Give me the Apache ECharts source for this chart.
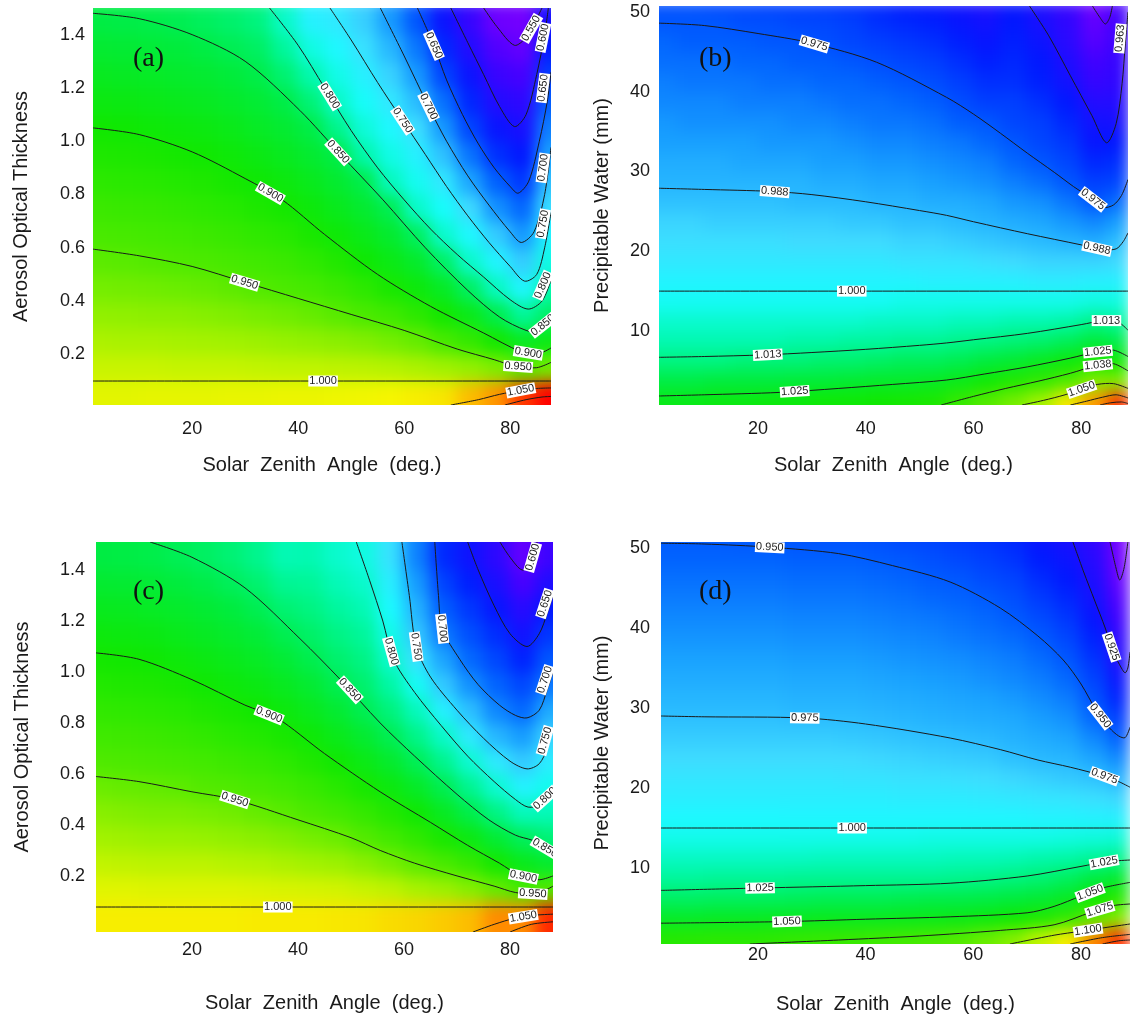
<!DOCTYPE html>
<html><head><meta charset="utf-8">
<script src="https://cdn.jsdelivr.net/npm/echarts@6/dist/echarts.min.js"></script>
<style>
html,body{margin:0;padding:0;background:#fff}
#wrap{position:relative;width:1130px;height:1026px;overflow:hidden}
#heat,#c{position:absolute;left:0;top:0;width:1130px;height:1026px}
#heat{filter:blur(8px)}
.mask{position:absolute;box-shadow:0 0 0 64px #fff}
</style>
</head><body><div id="wrap"><div id="heat"></div><div id="masks"></div><div id="c"></div></div>
<script>
// ---------- axes / categories ----------
const zenithCells = [2.5,7.5,12.5,17.5,22.5,27.5,32.5,37.5,42.5,47.5,52.5,57.5,62.5,67.5,72.5,77.5,82.5,87.5];
const aotCells = [0.05,0.15,0.25,0.35,0.45,0.55,0.65,0.75,0.85,0.95,1.05,1.15,1.25,1.35,1.45];
const pwCells = [1.25,3.75,6.25,8.75,11.25,13.75,16.25,18.75,21.25,23.75,26.25,28.75,31.25,33.75,36.25,38.75,41.25,43.75,46.25,48.75,51.25];
const zenithTicks = [20,40,60,80];
const aotTicks = [0.2,0.4,0.6,0.8,1.0,1.2,1.4];
const pwTicks = [10,20,30,40,50];

// ---------- panel (a): ratio, columns by zenith, values bottom->top ----------
const ratioA = [
[1.005,.995,.985,.975,.964,.954,.944,.933,.922,.911,.900,.888,.877,.865,.853],
[1.005,.995,.984,.974,.963,.953,.942,.931,.920,.909,.898,.887,.875,.864,.852],
[1.006,.995,.984,.973,.962,.951,.940,.929,.918,.907,.895,.884,.873,.861,.850],
[1.006,.994,.983,.972,.960,.949,.937,.926,.914,.903,.892,.880,.869,.858,.847],
[1.006,.994,.982,.970,.958,.946,.934,.922,.911,.899,.888,.876,.865,.853,.842],
[1.007,.994,.981,.968,.955,.942,.929,.917,.904,.893,.882,.870,.859,.847,.836],
[1.007,.993,.979,.965,.951,.937,.924,.910,.897,.886,.874,.863,.851,.840,.828],
[1.008,.992,.977,.962,.946,.932,.918,.903,.890,.877,.865,.852,.834,.815,.796],
[1.008,.992,.975,.958,.941,.924,.907,.892,.879,.866,.852,.831,.807,.784,.760],
[1.009,.991,.972,.953,.933,.913,.895,.880,.866,.852,.822,.796,.781,.766,.751],
[1.010,.990,.969,.946,.922,.898,.882,.866,.850,.809,.788,.773,.758,.743,.729],
[1.012,.988,.964,.936,.906,.885,.867,.847,.800,.782,.766,.749,.731,.713,.695],
[1.015,.985,.958,.922,.892,.869,.842,.795,.777,.759,.739,.716,.695,.677,.659],
[1.018,.981,.944,.902,.873,.839,.793,.772,.749,.720,.694,.673,.650,.634,.617],
[1.034,.976,.928,.882,.840,.794,.766,.736,.702,.675,.650,.633,.617,.600,.585],
[1.048,.968,.903,.850,.799,.763,.726,.691,.665,.638,.619,.600,.583,.566,.549],
[1.074,.953,.876,.816,.764,.726,.694,.668,.642,.624,.607,.590,.573,.555,.545],
[1.096,.963,.885,.839,.807,.783,.762,.742,.721,.700,.682,.664,.646,.627,.609]];

// ---------- panel (b) ----------
const ratioB = [
[1.027,1.020,1.014,1.009,1.006,1.002,.999,.996,.994,.992,.989,.987,.986,.984,.983,.981,.980,.978,.977,.975,.974],
[1.027,1.020,1.014,1.009,1.006,1.002,.999,.996,.994,.992,.989,.987,.986,.984,.982,.981,.979,.978,.976,.975,.974],
[1.028,1.021,1.014,1.009,1.006,1.002,.999,.996,.994,.991,.989,.987,.986,.984,.982,.981,.979,.978,.976,.975,.973],
[1.028,1.021,1.015,1.009,1.006,1.002,.999,.996,.994,.991,.989,.987,.985,.984,.982,.980,.979,.977,.976,.974,.973],
[1.029,1.021,1.015,1.009,1.006,1.002,.999,.996,.994,.991,.989,.987,.985,.983,.982,.980,.978,.977,.975,.974,.972],
[1.029,1.022,1.015,1.010,1.006,1.002,.999,.996,.993,.991,.988,.987,.985,.983,.981,.980,.978,.976,.975,.973,.972],
[1.030,1.022,1.016,1.010,1.006,1.002,.999,.996,.993,.991,.988,.986,.984,.983,.981,.979,.977,.976,.974,.973,.971],
[1.030,1.023,1.016,1.011,1.006,1.002,.999,.996,.993,.990,.988,.986,.984,.982,.980,.978,.977,.975,.973,.972,.970],
[1.031,1.024,1.017,1.011,1.007,1.002,.999,.996,.993,.990,.987,.985,.983,.981,.979,.978,.976,.974,.972,.970,.969],
[1.032,1.024,1.018,1.012,1.007,1.003,.999,.995,.992,.989,.987,.985,.983,.981,.979,.977,.975,.973,.971,.969,.967],
[1.033,1.025,1.018,1.012,1.007,1.003,.998,.995,.992,.989,.986,.984,.982,.980,.978,.976,.974,.972,.970,.968,.966],
[1.038,1.027,1.019,1.013,1.008,1.003,.998,.995,.991,.988,.986,.983,.981,.979,.976,.974,.972,.970,.968,.966,.964],
[1.043,1.030,1.021,1.014,1.008,1.003,.998,.994,.990,.987,.985,.982,.980,.977,.975,.972,.970,.968,.966,.964,.962],
[1.046,1.034,1.023,1.015,1.009,1.003,.998,.993,.989,.986,.983,.980,.977,.975,.973,.972,.970,.969,.968,.967,.966],
[1.050,1.037,1.026,1.016,1.009,1.003,.997,.992,.988,.985,.982,.978,.975,.973,.972,.970,.968,.967,.965,.963,.962],
[1.058,1.042,1.029,1.018,1.010,1.003,.997,.992,.987,.983,.979,.975,.973,.971,.969,.967,.964,.962,.960,.959,.957],
[1.065,1.047,1.033,1.021,1.013,1.004,.998,.992,.986,.981,.975,.972,.969,.966,.964,.961,.958,.956,.953,.951,.949],
[1.072,1.047,1.030,1.019,1.011,1.004,.998,.993,.989,.984,.978,.973,.970,.967,.963,.961,.959,.958,.957,.956,.955]];

// ---------- panel (c) ----------
const ratioC = [
[1.003,.993,.983,.973,.964,.954,.944,.933,.923,.913,.902,.892,.881,.870,.859],
[1.003,.993,.982,.972,.962,.952,.942,.932,.921,.911,.901,.890,.880,.869,.858],
[1.003,.992,.981,.970,.960,.951,.940,.930,.919,.909,.898,.888,.877,.867,.856],
[1.003,.992,.981,.970,.960,.949,.938,.927,.916,.905,.894,.883,.873,.862,.852],
[1.003,.992,.981,.969,.958,.946,.935,.923,.911,.899,.889,.878,.868,.857,.847],
[1.003,.992,.979,.967,.956,.944,.931,.918,.906,.893,.883,.872,.861,.850,.840],
[1.004,.991,.978,.965,.952,.939,.926,.913,.900,.888,.877,.865,.853,.842,.830],
[1.004,.990,.976,.962,.948,.934,.920,.906,.892,.880,.867,.854,.841,.828,.815],
[1.004,.989,.973,.958,.942,.927,.911,.896,.882,.869,.855,.845,.835,.826,.816],
[1.005,.988,.971,.954,.935,.917,.899,.884,.869,.854,.843,.834,.824,.814,.805],
[1.006,.985,.965,.946,.925,.904,.887,.870,.853,.843,.834,.825,.815,.806,.797],
[1.009,.982,.958,.935,.912,.891,.872,.853,.837,.821,.805,.794,.783,.772,.761],
[1.011,.975,.949,.922,.898,.875,.852,.832,.812,.789,.761,.743,.731,.718,.706],
[1.015,.971,.939,.906,.879,.854,.830,.807,.775,.744,.723,.702,.689,.676,.663],
[1.020,.963,.925,.889,.856,.829,.803,.768,.738,.713,.694,.682,.670,.658,.646],
[1.035,.952,.903,.867,.834,.803,.768,.733,.708,.692,.678,.665,.651,.638,.625],
[1.035,.937,.883,.850,.812,.776,.744,.718,.694,.678,.660,.643,.628,.608,.592],
[1.060,.944,.871,.839,.814,.792,.771,.750,.726,.702,.686,.670,.653,.635,.615]];

// ---------- panel (d) ----------
const ratioD = [
[1.066,1.046,1.031,1.020,1.012,1.004,.998,.993,.989,.984,.980,.976,.973,.970,.967,.964,.961,.958,.955,.952,.950],
[1.067,1.046,1.031,1.020,1.012,1.004,.998,.993,.989,.984,.980,.976,.973,.970,.967,.964,.961,.958,.955,.952,.950],
[1.068,1.047,1.032,1.021,1.012,1.004,.998,.993,.989,.984,.980,.976,.973,.970,.967,.964,.961,.958,.955,.952,.950],
[1.068,1.047,1.032,1.021,1.012,1.004,.998,.993,.989,.984,.980,.976,.973,.970,.967,.964,.961,.958,.955,.952,.949],
[1.069,1.048,1.032,1.021,1.012,1.004,.998,.993,.989,.984,.980,.976,.973,.970,.967,.964,.961,.958,.955,.952,.949],
[1.071,1.048,1.033,1.022,1.012,1.004,.997,.993,.989,.984,.980,.975,.972,.969,.966,.963,.960,.957,.954,.951,.948],
[1.072,1.049,1.034,1.022,1.013,1.004,.997,.993,.989,.984,.980,.975,.972,.969,.966,.963,.960,.957,.954,.951,.948],
[1.073,1.049,1.034,1.022,1.013,1.004,.997,.993,.988,.984,.979,.975,.972,.969,.966,.963,.960,.957,.954,.951,.948],
[1.075,1.049,1.034,1.022,1.013,1.004,.997,.993,.988,.983,.978,.974,.971,.968,.965,.962,.959,.956,.953,.950,.947],
[1.077,1.050,1.035,1.022,1.013,1.004,.997,.992,.987,.982,.977,.973,.970,.967,.964,.961,.958,.955,.952,.949,.945],
[1.079,1.051,1.036,1.022,1.013,1.005,.997,.992,.987,.981,.976,.972,.969,.966,.963,.960,.957,.953,.950,.947,.944],
[1.082,1.052,1.036,1.023,1.014,1.005,.997,.992,.986,.980,.975,.971,.968,.965,.962,.958,.955,.952,.949,.945,.942],
[1.086,1.054,1.037,1.024,1.014,1.005,.997,.991,.985,.979,.974,.970,.967,.963,.960,.956,.953,.950,.946,.943,.940],
[1.091,1.058,1.039,1.026,1.015,1.005,.997,.990,.983,.976,.972,.969,.965,.961,.958,.954,.950,.947,.944,.940,.937],
[1.101,1.063,1.042,1.028,1.017,1.005,.996,.989,.981,.974,.970,.966,.962,.958,.954,.950,.946,.942,.938,.934,.930],
[1.111,1.071,1.047,1.032,1.018,1.006,.996,.988,.979,.973,.968,.963,.958,.953,.949,.945,.941,.937,.933,.929,.925],
[1.128,1.084,1.059,1.038,1.021,1.007,.995,.986,.977,.968,.961,.953,.948,.944,.940,.936,.931,.927,.923,.920,.916],
[1.139,1.091,1.067,1.044,1.023,1.008,.994,.983,.972,.961,.951,.943,.936,.929,.922,.917,.911,.906,.900,.897,.896]];

// ---------- contour lines: level, points [zenith, y], label points ----------
const contourA = [
 {lv:'0.550', pts:[[75,1.5],[77.5,1.43],[80.8,1.36],[83,1.39],[85,1.46],[86,1.5]], lab:[[83.4,1.43]]},
 {lv:'0.600', pts:[[68.8,1.5],[72,1.37],[75,1.25],[78,1.13],[80.8,1.055],[83,1.1],[85,1.25],[86.5,1.4],[87.2,1.5]], lab:[[86.3,1.39]]},
 {lv:'0.650', pts:[[62.5,1.5],[65.6,1.36],[68,1.23],[71,1.1],[74,0.99],[77,0.9],[80,0.83],[81.5,0.805],[83.5,0.85],[85.5,1.0],[87,1.15],[87.7,1.26]], lab:[[65.6,1.36],[87.2,1.2]]},
 {lv:'0.700', pts:[[55.5,1.5],[60,1.32],[64.6,1.13],[68,1.0],[72,0.87],[76,0.76],[80,0.66],[82.1,0.62],[84.5,0.66],[86.5,0.8],[87.7,0.977]], lab:[[64.6,1.13],[87.3,0.9]]},
 {lv:'0.750', pts:[[46,1.5],[50,1.38],[55,1.22],[59.7,1.078],[64,0.95],[68,0.83],[72,0.72],[76,0.62],[80,0.53],[82.7,0.475],[85,0.5],[86.5,0.6],[87.7,0.734]], lab:[[59.7,1.078],[87.3,0.69]]},
 {lv:'0.800', pts:[[34.6,1.5],[40,1.36],[45,1.2],[50,1.04],[55,0.9],[60,0.78],[65,0.67],[70,0.575],[75,0.49],[80,0.405],[83.4,0.37],[86,0.4],[87.7,0.479]], lab:[[46,1.17],[87.2,0.46]]},
 {lv:'0.850', pts:[[1.3,1.48],[10,1.46],[20,1.40],[30,1.30],[40.3,1.116],[48,0.95],[56,0.78],[64,0.6],[72,0.44],[78,0.34],[83,0.29],[85.5,0.285],[87.7,0.32]], lab:[[47,0.95],[87,0.31]]},
 {lv:'0.900', pts:[[1.3,1.05],[10,1.025],[20,0.96],[30,0.86],[37,0.78],[45,0.65],[55,0.5],[65,0.38],[75,0.28],[82,0.21],[85,0.2],[87.7,0.224]], lab:[[34.6,0.8],[83.4,0.205]]},
 {lv:'0.950', pts:[[1.3,0.595],[10,0.57],[20,0.53],[30,0.47],[40,0.41],[50,0.35],[60,0.29],[70,0.22],[77,0.18],[81,0.155],[85,0.15],[87.7,0.17]], lab:[[29.9,0.47],[81.5,0.155]]},
 {lv:'1.000', pts:[[1.3,0.1],[87.7,0.1]], lab:[[44.7,0.1]]},
 {lv:'1.050', pts:[[68.8,0.01],[74,0.03],[78,0.05],[82,0.065],[85,0.072],[87.7,0.074]], lab:[[82,0.065]]},
 {lv:'1.100', pts:[[79,0.01],[83,0.03],[86,0.04],[87.7,0.042]], lab:[]}
];
const contourB = [
 {lv:'0.950', pts:[[82.1,50.75],[83.5,49.3],[84.5,48.5],[85.3,49.3],[85.8,50.75]], lab:[]},
 {lv:'0.963', pts:[[70.4,50.75],[74,47],[78,42],[82,37],[84.7,33.6],[86.5,36],[87.6,41],[88.2,46],[88.7,50]], lab:[[88.1,46.7]]},
 {lv:'0.975', pts:[[1.6,48.6],[10,48.3],[20,47.3],[29.9,46.1],[42,43.7],[55,39.3],[60,37.2],[65,34.8],[70,32.3],[75,29.9],[78.6,28.1],[82,26.6],[84.1,25.5],[86,25.8],[87.5,27],[88.7,29]], lab:[[30.5,46.1],[81.6,26.0]]},
 {lv:'0.988', pts:[[1.6,27.9],[10,27.75],[22.5,27.5],[30,27.1],[40,26.2],[50,25.1],[55,24.5],[60,23.7],[70,22.2],[80,20.8],[84,20.2],[86.5,20.3],[87.8,21.2],[88.7,22.3]], lab:[[23.1,27.55],[82.9,20.3]]},
 {lv:'1.000', pts:[[1.6,15],[88.7,15]], lab:[[37.4,15]]},
 {lv:'1.013', pts:[[1.6,6.7],[10,6.8],[21,7.0],[30,7.3],[40,7.7],[50,8.2],[55,8.5],[60,8.9],[70,9.7],[80,10.8],[84,11.3],[86.5,11.3],[88.7,10.1]], lab:[[21.8,7.0],[84.7,11.3]]},
 {lv:'1.025', pts:[[1.6,1.85],[10,2.0],[24,2.3],[35,2.8],[45,3.3],[55,3.85],[62,4.6],[70,5.5],[78,6.6],[83,7.4],[86,7.6],[88.7,6.8]], lab:[[26.8,2.4],[83.1,7.4]]},
 {lv:'1.038', pts:[[54,0.72],[60,1.8],[66,2.8],[72,3.7],[78,4.7],[83,5.7],[86,5.9],[88.7,5.0]], lab:[[83.1,5.7]]},
 {lv:'1.050', pts:[[69,0.72],[73,1.3],[77,2.0],[80.5,2.8],[83,3.3],[86,3.4],[88.7,2.8]], lab:[[80.1,2.7]]},
 {lv:'1.063', pts:[[78,0.72],[81,1.2],[84,1.7],[86.5,2.0],[88.7,1.6]], lab:[]},
 {lv:'1.075', pts:[[83.5,0.72],[85.5,1.0],[87.5,1.1],[88.7,0.9]], lab:[]}
];
const contourC = [
 {lv:'0.600', pts:[[78.1,1.51],[80,1.45],[82.3,1.4],[84,1.43],[85.1,1.51]], lab:[[84.3,1.45]]},
 {lv:'0.650', pts:[[72,1.51],[74,1.4],[77,1.26],[80,1.15],[83.2,1.1],[85.5,1.15],[87,1.23],[88.1,1.3]], lab:[[87.4,1.27]]},
 {lv:'0.700', pts:[[65.8,1.51],[66.5,1.3],[67.2,1.17],[70.5,1.05],[74,0.95],[78,0.87],[81,0.83],[83.2,0.82],[85.5,0.85],[87,0.93],[88.1,1.0]], lab:[[67.2,1.17],[87.6,0.97]]},
 {lv:'0.750', pts:[[59.6,1.51],[61,1.3],[62.3,1.1],[65,0.98],[70,0.85],[75,0.74],[80,0.65],[83.2,0.62],[85.5,0.64],[87,0.7],[88.1,0.78]], lab:[[62.3,1.1],[87.6,0.73]]},
 {lv:'0.800', pts:[[51,1.51],[53.5,1.36],[56,1.2],[58,1.05],[62,0.92],[67,0.79],[72,0.67],[77,0.57],[81,0.5],[83.4,0.47],[86,0.48],[88.1,0.52]], lab:[[57.5,1.08],[87.4,0.5]]},
 {lv:'0.850', pts:[[12.1,1.51],[20,1.45],[30,1.33],[40.4,1.13],[48,0.97],[55.5,0.8],[62,0.67],[70,0.52],[76,0.42],[81,0.36],[84.2,0.34],[86.5,0.32],[88.1,0.3]], lab:[[49.8,0.93],[87.3,0.31]]},
 {lv:'0.900', pts:[[1.9,1.075],[10,1.05],[20,0.97],[30,0.87],[36,0.82],[45,0.68],[55.5,0.53],[65,0.41],[72,0.32],[78,0.25],[82,0.2],[85.5,0.185],[88.1,0.2]], lab:[[34.7,0.84],[82.5,0.195]]},
 {lv:'0.950', pts:[[1.9,0.59],[10,0.57],[20,0.53],[28,0.5],[40,0.42],[50,0.35],[55.5,0.3],[62,0.25],[70,0.2],[77,0.16],[81,0.135],[85,0.13],[88.1,0.16]], lab:[[28.1,0.5],[84.3,0.13]]},
 {lv:'1.000', pts:[[1.9,0.078],[88.1,0.078]], lab:[[36.2,0.078]]},
 {lv:'1.050', pts:[[73,-0.02],[77,0.01],[81,0.035],[84,0.045],[88.1,0.05]], lab:[[82.5,0.04]]},
 {lv:'1.100', pts:[[80,-0.02],[84,0.01],[88.1,0.02]], lab:[]}
];
const contourD = [
 {lv:'0.900', pts:[[85.4,50.75],[86.5,47.5],[87.2,46],[88,47.5],[88.7,50.75]], lab:[]},
 {lv:'0.925', pts:[[78.5,50.75],[80.5,47],[82.5,43.5],[84.5,40],[86,37],[87.5,35],[88.2,34.4],[88.7,35],[89.1,37]], lab:[[85.6,37.6]]},
 {lv:'0.950', pts:[[2,50.6],[10,50.5],[22.2,50.1],[35,49.3],[45,47.8],[55.7,45.75],[65,42.5],[72,39],[76.7,36],[80,33],[83,29.5],[85.3,27.5],[87,26.5],[88.2,26.3],[89.1,27.6]], lab:[[22.2,50.1],[83.5,29.0]]},
 {lv:'0.975', pts:[[2,29],[10,28.9],[28.7,28.75],[40,28],[55.7,26.25],[65,24.8],[72,23.5],[78,22.6],[84.2,21.5],[87,20.8],[89.1,20.1]], lab:[[28.7,28.75],[84.3,21.4]]},
 {lv:'1.000', pts:[[2,15],[89.1,15]], lab:[[37.5,15]]},
 {lv:'1.025', pts:[[2,7.2],[20.4,7.5],[40,7.8],[55.7,8.1],[70,9],[80,10.2],[85,10.8],[89.1,11]], lab:[[20.4,7.5],[84.3,10.7]]},
 {lv:'1.050', pts:[[2,3.1],[25,3.3],[40,3.6],[55.7,3.9],[70,4.4],[75,5.2],[80,6.5],[84,7.5],[89.1,8.2]], lab:[[25.4,3.3],[81.7,6.9]]},
 {lv:'1.075', pts:[[18.5,0.5],[35,1.0],[50,1.5],[65,2.2],[75,2.9],[82,4.5],[86,5.3],[89.1,5.5]], lab:[[83.5,4.8]]},
 {lv:'1.100', pts:[[66.8,0.5],[75,1.6],[80,2.1],[85,2.6],[89.1,3.0]], lab:[[81.3,2.25]]},
 {lv:'1.125', pts:[[78,0.5],[84,1.3],[89.1,1.7]], lab:[]},
 {lv:'1.150', pts:[[84,0.5],[87,0.9],[89.1,1.0]], lab:[]}
];

// ---------- colour map (style) ----------
const cmapStops = [[0,'#8c00ff'],[0.08,'#4400ff'],[0.17,'#0018ff'],[0.24,'#0060ff'],[0.30,'#18a0ff'],[0.37,'#40dcff'],[0.43,'#18fcff'],[0.5,'#00f8a8'],[0.58,'#00ec40'],[0.66,'#10e800'],[0.75,'#50ea00'],[0.81,'#a8f200'],[0.86,'#f6f600'],[0.92,'#ffa000'],[1,'#ff0000']];
function hex2rgb(h){return [parseInt(h.slice(1,3),16),parseInt(h.slice(3,5),16),parseInt(h.slice(5,7),16)];}
function palette(n){
  const out=[];
  for(let i=0;i<n;i++){
    const t=i/(n-1);let k=0;
    while(k<cmapStops.length-2 && t>cmapStops[k+1][0]) k++;
    const [t0,c0]=cmapStops[k],[t1,c1]=cmapStops[k+1];
    const f=(t-t0)/(t1-t0);const a=hex2rgb(c0),b=hex2rgb(c1);
    out.push('rgb('+a.map((v,j)=>Math.round(v+(b[j]-v)*f)).join(',')+')');
  }
  return out;
}
const PAL = palette(101);

// ---------- layout ----------
const GRIDS = [
  {left:93, top:8, width:458, height:397},
  {left:659, top:6, width:469, height:399},
  {left:96, top:542, width:457, height:390},
  {left:661, top:542, width:469, height:402}
];
const XR = [[1.3,87.7],[1.6,88.7],[1.9,88.1],[2.0,89.1]];
const YR = [[0.01,1.5],[0.72,50.75],[-0.02,1.51],[0.5,50.75]];
const FONT = '"Liberation Sans", Arial, Helvetica, sans-serif';
const EXT = 28;

// ---------- builders ----------
function heatSeries(gi, cols, rows, values, dx, dy){
  const data=[];
  values.forEach((col,i)=>col.forEach((v,j)=>data.push([cols[i], rows[j], v])));
  const x0c=cols[0], x1c=cols[cols.length-1], y0c=rows[0], y1c=rows[rows.length-1];
  return {type:'custom', coordinateSystem:'cartesian2d', xAxisIndex:gi, yAxisIndex:gi, silent:true, z:1,
    dimensions:['x','y','v'], encode:{x:0,y:1}, data,
    renderItem(params, api){
      const x=api.value(0), y=api.value(1);
      const p1=api.coord([x-dx/2, y+dy/2]), p2=api.coord([x+dx/2, y-dy/2]);
      let a=p1[0]-0.6, b=p1[1]-0.6, c=p2[0]+0.6, d=p2[1]+0.6;
      if(x===x0c) a-=EXT; if(x===x1c) c+=EXT; if(y===y0c) d+=EXT; if(y===y1c) b-=EXT;
      return {type:'rect', shape:{x:a,y:b,width:c-a,height:d-b}, style:{fill:api.visual('color')}};
    }};
}
function contourSeries(gi, list){
  return {type:'custom', coordinateSystem:'cartesian2d', xAxisIndex:gi, yAxisIndex:gi, silent:true, z:5,
    data:list.map((c,i)=>[i]),
    renderItem(params, api){
      const c=list[params.dataIndex];
      const pts=c.pts.map(p=>api.coord(p));
      const cs=params.coordSys;
      const children=[{type:'polyline', shape:{points:pts, smooth:0.3}, style:{stroke:'#1a1a1a', lineWidth:1, fill:null}}];
      c.lab.forEach(l=>{
        const q=api.coord(l);
        let best=null,bd=1e18;
        for(let k=0;k<pts.length-1;k++){
          const a=pts[k],b=pts[k+1];const vx=b[0]-a[0],vy=b[1]-a[1];
          const L=vx*vx+vy*vy||1;let t=((q[0]-a[0])*vx+(q[1]-a[1])*vy)/L;t=Math.max(0,Math.min(1,t));
          const px=a[0]+t*vx,py=a[1]+t*vy;const d=(px-q[0])**2+(py-q[1])**2;
          if(d<bd){bd=d;best={px,py,vx,vy};}
        }
        let ang=Math.atan2(best.vy,best.vx);
        if(ang>Math.PI/2) ang-=Math.PI; if(ang<-Math.PI/2) ang+=Math.PI;
        const px=Math.min(Math.max(best.px,cs.x+8),cs.x+cs.width-8);
        children.push({type:'text', x:px, y:best.py, rotation:-ang, z2:10,
          style:{text:c.lv, font:'11px '+FONT, fill:'#222', backgroundColor:'#fff', padding:[0,1], align:'center', verticalAlign:'middle'}});
      });
      return {type:'group', clipPath:{type:'rect', shape:{x:cs.x,y:cs.y,width:cs.width,height:cs.height}}, children};
    }};
}
function xAxisCfg(gi,margin,gap,show){
  return {gridIndex:gi, type:'value', min:XR[gi][0], max:XR[gi][1], show, axisLine:{show:false}, axisTick:{show:false}, splitLine:{show:false},
    axisLabel:{customValues:zenithTicks, fontSize:18, color:'#1a1a1a', fontFamily:FONT, margin},
    name:'Solar  Zenith  Angle  (deg.)', nameLocation:'middle', nameGap:gap,
    nameTextStyle:{fontSize:20, color:'#1a1a1a', fontFamily:FONT}};
}
function yAxisCfg(gi,ticks,dec,name,margin,gap,show){
  return {gridIndex:gi, type:'value', min:YR[gi][0], max:YR[gi][1], show, axisLine:{show:false}, axisTick:{show:false}, splitLine:{show:false},
    axisLabel:{customValues:ticks, fontSize:18, color:'#1a1a1a', fontFamily:FONT, margin, formatter:v=>Number(v).toFixed(dec)},
    name, nameLocation:'middle', nameGap:gap, nameRotate:90,
    nameTextStyle:{fontSize:20, color:'#1a1a1a', fontFamily:FONT}};
}
function axes(show){
  return {
    xAxis:[xAxisCfg(0,15,50,show), xAxisCfg(1,15,50,show), xAxisCfg(2,9,61,show), xAxisCfg(3,2,50,show)],
    yAxis:[
      yAxisCfg(0,aotTicks,1,'Aerosol Optical Thickness',8,62,show),
      yAxisCfg(1,pwTicks,0,'Precipitable Water (mm)',9,47,show),
      yAxisCfg(2,aotTicks,1,'Aerosol Optical Thickness',11,64,show),
      yAxisCfg(3,pwTicks,0,'Precipitable Water (mm)',11,49,show)
    ]};
}

// shaded field layer (softened by CSS blur, masked outside plot areas)
const heatAx = axes(false);
const heatOption = {
  animation:false, grid:GRIDS, xAxis:heatAx.xAxis, yAxis:heatAx.yAxis,
  visualMap:[
    {show:false, seriesIndex:0, dimension:2, min:0.53, max:1.09, inRange:{color:PAL}},
    {show:false, seriesIndex:1, dimension:2, min:0.945, max:1.075, inRange:{color:PAL}},
    {show:false, seriesIndex:2, dimension:2, min:0.57, max:1.07, inRange:{color:PAL}},
    {show:false, seriesIndex:3, dimension:2, min:0.89, max:1.145, inRange:{color:PAL}}
  ],
  series:[
    heatSeries(0, zenithCells, aotCells, ratioA, 5, 0.1),
    heatSeries(1, zenithCells, pwCells, ratioB, 5, 2.5),
    heatSeries(2, zenithCells, aotCells, ratioC, 5, 0.1),
    heatSeries(3, zenithCells, pwCells, ratioD, 5, 2.5)
  ]
};
echarts.init(document.getElementById('heat'), null, {renderer:'canvas'}).setOption(heatOption);

const masks = document.getElementById('masks');
GRIDS.forEach(g=>{const m=document.createElement('div');m.className='mask';
  m.style.left=g.left+'px';m.style.top=g.top+'px';m.style.width=g.width+'px';m.style.height=g.height+'px';masks.appendChild(m);});

// axes, contour lines, labels
const ax = axes(true);
const serif = '"Liberation Serif", "Times New Roman", serif';
const option = {
  backgroundColor:'transparent', animation:false, grid:GRIDS, xAxis:ax.xAxis, yAxis:ax.yAxis,
  title:[
    {text:'(a)', left:128, top:40, textStyle:{fontFamily:serif, fontSize:28, fontWeight:'normal', color:'#111'}},
    {text:'(b)', left:694, top:40, textStyle:{fontFamily:serif, fontSize:28, fontWeight:'normal', color:'#111'}},
    {text:'(c)', left:128, top:573, textStyle:{fontFamily:serif, fontSize:28, fontWeight:'normal', color:'#111'}},
    {text:'(d)', left:694, top:573, textStyle:{fontFamily:serif, fontSize:28, fontWeight:'normal', color:'#111'}}
  ],
  series:[contourSeries(0, contourA), contourSeries(1, contourB), contourSeries(2, contourC), contourSeries(3, contourD)]
};
echarts.init(document.getElementById('c'), null, {renderer:'canvas'}).setOption(option);
</script></body></html>
